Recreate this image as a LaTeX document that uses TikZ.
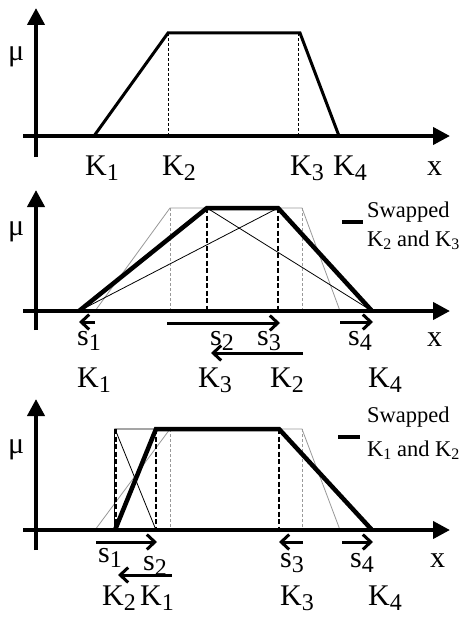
\documentclass[tikz,border=0pt]{standalone}
\usepackage{fontspec}
\setmainfont{Liberation Serif}
\usetikzlibrary{arrows.meta}
\newcommand{\lbl}[2]{#1\raisebox{-5pt}{\fontsize{24}{24}\selectfont #2}}
\newcommand{\lgs}[2]{#1\raisebox{-3pt}{\fontsize{16}{16}\selectfont #2}}
\tikzset{
  axis/.style={line width=4pt,-{Triangle[length=17pt,width=17pt]}},
  trapthin/.style={line width=3pt,line join=miter},
  trapthick/.style={line width=4.5pt,line join=miter},
  grayline/.style={line width=0.8pt,draw=black!40},
  graydash/.style={line width=1pt,draw=black!40,dash pattern=on 3pt off 2pt},
  thinline/.style={line width=0.8pt},
  bdash/.style={line width=2pt,dash pattern=on 5pt off 2.5pt},
  fdash/.style={line width=1pt,dash pattern=on 3pt off 2pt},
  move/.style={line width=3pt,-{Straight Barb[length=8pt,width=15pt]}},
  legline/.style={line width=4.5pt},
  big/.style={inner sep=0pt,anchor=base west,font=\fontsize{30}{30}\selectfont},
  leg/.style={inner sep=0pt,anchor=base west,font=\fontsize{22.5}{22.5}\selectfont},
}
\begin{document}
\begin{tikzpicture}[x=1pt,y=-1pt]
\useasboundingbox[fill=white] (0,0) rectangle (461,618);
% ---------- panel 1 ----------
\draw[fdash] (168,33) -- (168,136);
\draw[fdash] (298,33) -- (298,136);
\draw[trapthin] (94,136) -- (168,33) -- (300,33) -- (339,136);
\draw[axis] (23,136) -- (450,136);
\draw[axis] (36,157) -- (36,8);
\node[big] (mu1) at (8,60) {μ};
\node[big] (a1) at (85,175) {\lbl{K}{1}};
\node[big] (a2) at (162,175) {\lbl{K}{2}};
\node[big] (a3) at (290,175) {\lbl{K}{3}};
\node[big] (a4) at (333,175) {\lbl{K}{4}};
\node[big] (x1) at (427,175) {x};
% ---------- panel 2 ----------
\draw[grayline] (95,311) -- (170,208) -- (302,208) -- (340,311);
\draw[graydash] (170,208) -- (170,311);
\draw[graydash] (302,208) -- (302,311);
\draw[thinline] (79,311) -- (278,208);
\draw[thinline] (207,208) -- (372,311);
\draw[bdash] (207,208) -- (207,311);
\draw[bdash] (278,208) -- (278,311);
\draw[trapthick] (79,311) -- (207,208) -- (278,208) -- (372,311);
\draw[axis] (23,311) -- (450,311);
\draw[axis] (36,330) -- (36,190);
\draw[move] (95,322) -- (79,322);
\draw[move] (167,323) -- (280,323);
\draw[move] (340,322) -- (373,322);
\draw[move] (303,353) -- (211,353);
\draw[legline] (342,222) -- (363,222);
\node[leg] (sw2) at (367,217) {Swapped};
\node[leg] (sk2) at (367,246) {\lgs{K}{2} and \lgs{K}{3}};
\node[big] (mu2) at (8,235) {μ};
\node[big] (s21) at (77,345) {\lbl{s}{1}};
\node[big] (s22) at (210,345) {\lbl{s}{2}};
\node[big] (s23) at (257,345) {\lbl{s}{3}};
\node[big] (s24) at (348,345) {\lbl{s}{4}};
\node[big] (x2) at (427,346) {x};
\node[big] (b1) at (77,387) {\lbl{K}{1}};
\node[big] (b3) at (198,387) {\lbl{K}{3}};
\node[big] (b2) at (270,387) {\lbl{K}{2}};
\node[big] (b4) at (368,387) {\lbl{K}{4}};
% ---------- panel 3 ----------
\draw[grayline] (95,530) -- (170,429) -- (302,429) -- (340,530);
\draw[graydash] (170,429) -- (170,530);
\draw[graydash] (302,429) -- (302,530);
\draw[thinline] (156,530) -- (115,429) -- (156,429);
\draw[thinline] (114,429) -- (114,530);
\draw[bdash] (116,429) -- (116,530);
\draw[bdash] (156,429) -- (156,530);
\draw[bdash] (279,429) -- (279,530);
\draw[trapthick] (115,530) -- (156,429) -- (279,429) -- (372,530);
\draw[axis] (23,530) -- (450,530);
\draw[axis] (36,550) -- (36,399);
\draw[move] (96,542) -- (157,542);
\draw[move] (303,542) -- (279,542);
\draw[move] (342,542) -- (373,542);
\draw[move] (172,575) -- (118,575);
\draw[legline] (338,437) -- (360,437);
\node[leg] (sw3) at (367,422) {Swapped};
\node[leg] (sk3) at (367,456) {\lgs{K}{1} and \lgs{K}{2}};
\node[big] (mu3) at (8,453) {μ};
\node[big] (s31) at (98,562) {\lbl{s}{1}};
\node[big] (s32) at (143,570) {\lbl{s}{2}};
\node[big] (s33) at (280,567) {\lbl{s}{3}};
\node[big] (s34) at (350,567) {\lbl{s}{4}};
\node[big] (x3) at (430,567) {x};
\node[big] (c2) at (102,605) {\lbl{K}{2}};
\node[big] (c1) at (140,605) {\lbl{K}{1}};
\node[big] (c3) at (280,605) {\lbl{K}{3}};
\node[big] (c4) at (368,605) {\lbl{K}{4}};
\end{tikzpicture}
\end{document}
